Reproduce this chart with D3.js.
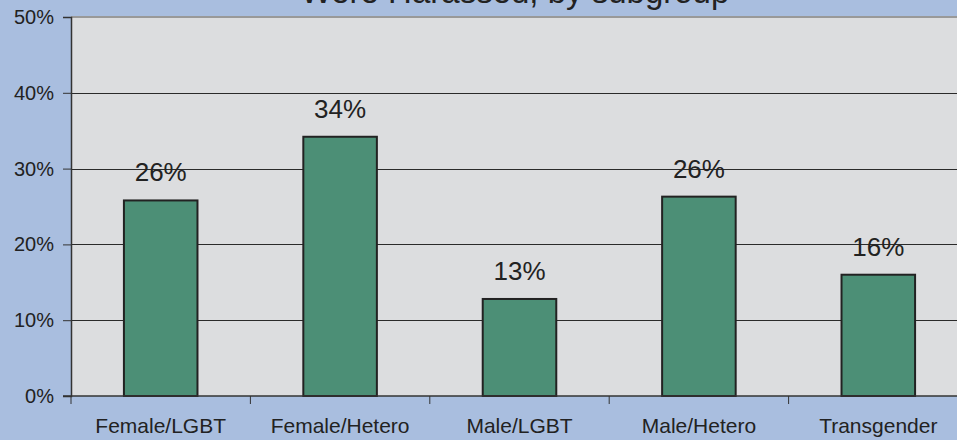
<!DOCTYPE html>
<html>
<head>
<meta charset="utf-8">
<script src="https://cdn.jsdelivr.net/npm/d3@7"></script>
<style>
  html, body { margin: 0; padding: 0; background: #A9BEDF; overflow: hidden; }
  svg { display: block; font-family: "Liberation Sans", Arial, sans-serif; }
</style>
</head>
<body>
<svg></svg>
<script>
const categories = ['Female/LGBT', 'Female/Hetero', 'Male/LGBT', 'Male/Hetero', 'Transgender']
const values = [0.258, 0.342, 0.128, 0.263, 0.160]
const valueLabels = ['26%', '34%', '13%', '26%', '16%']
const yTicks = [0, 0.1, 0.2, 0.3, 0.4, 0.5]
const title = 'Were Harassed, by subgroup'

const width = 957
const height = 440
const plotLeft = 71
const plotTop = 17
const plotBottom = 396
const plotRight = 968

const svg = d3.select('svg')
    .attr('width', width)
    .attr('height', height)

svg.append('rect')
    .attr('width', width)
    .attr('height', height)
    .attr('fill', '#A9BEDF')

const xScale = d3.scaleBand()
    .domain(categories)
    .range([plotLeft, plotRight])
    .paddingInner(0.59)
    .paddingOuter(0.295)

const yScale = d3.scaleLinear()
    .domain([0, 0.5])
    .range([plotBottom, plotTop])

// plot area
svg.append('rect')
    .attr('x', plotLeft)
    .attr('y', plotTop)
    .attr('width', plotRight - plotLeft)
    .attr('height', plotBottom - plotTop)
    .attr('fill', '#DCDDDF')

// grid lines
svg.append('g')
    .selectAll('line')
    .data(yTicks.filter(d => d > 0 && d < 0.5))
    .enter()
    .append('line')
    .attr('x1', plotLeft)
    .attr('x2', plotRight)
    .attr('y1', d => Math.round(yScale(d)) + 0.5)
    .attr('y2', d => Math.round(yScale(d)) + 0.5)
    .attr('stroke', '#2a2a2a')
    .attr('stroke-width', 1)

// top border
svg.append('line')
    .attr('x1', plotLeft)
    .attr('x2', plotRight)
    .attr('y1', plotTop)
    .attr('y2', plotTop)
    .attr('stroke', '#999999')
    .attr('stroke-width', 2)

// bars
svg.selectAll('.bar')
    .data(categories)
    .enter()
    .append('rect')
    .attr('class', 'bar')
    .attr('x', d => xScale(d))
    .attr('y', (d, i) => yScale(values[i]))
    .attr('width', xScale.bandwidth())
    .attr('height', (d, i) => plotBottom - yScale(values[i]))
    .attr('fill', '#4C8F76')
    .attr('stroke', '#222222')
    .attr('stroke-width', 2)

// value labels
svg.selectAll('.value')
    .data(categories)
    .enter()
    .append('text')
    .attr('class', 'value')
    .attr('x', d => xScale(d) + xScale.bandwidth() / 2)
    .attr('y', (d, i) => yScale(values[i]) - 19)
    .attr('text-anchor', 'middle')
    .style('font-size', '26px')
    .style('fill', '#222222')
    .text((d, i) => valueLabels[i])

// y axis
const yAxis = d3.axisLeft(yScale)
    .tickValues(yTicks)
    .tickFormat(d3.format('.0%'))
    .tickSize(8)
    .tickPadding(9)

const yG = svg.append('g')
    .attr('transform', 'translate(' + plotLeft + ', 0)')
    .call(yAxis)
yG.select('.domain').attr('stroke', '#333333').attr('stroke-width', 1.5)
yG.selectAll('.tick line').attr('stroke', '#333333')
yG.selectAll('.tick text')
    .style('font-size', '20px')
    .style('fill', '#222222')
    .style('font-family', '"Liberation Sans", Arial, sans-serif')

// x axis with ticks at category boundaries
const xG = svg.append('g')
    .attr('transform', 'translate(0, ' + plotBottom + ')')

xG.append('line')
    .attr('x1', plotLeft - 8)
    .attr('x2', plotRight)
    .attr('y1', 0)
    .attr('y2', 0)
    .attr('stroke', '#333333')
    .attr('stroke-width', 1.5)

const step = xScale.step()
xG.selectAll('.xtick')
    .data(categories)
    .enter()
    .append('line')
    .attr('class', 'xtick')
    .attr('x1', d => xScale(d) - xScale.paddingInner() * step / 2)
    .attr('x2', d => xScale(d) - xScale.paddingInner() * step / 2)
    .attr('y1', 0)
    .attr('y2', 8)
    .attr('stroke', '#333333')

xG.selectAll('.xlabel')
    .data(categories)
    .enter()
    .append('text')
    .attr('class', 'xlabel')
    .attr('x', d => xScale(d) + xScale.bandwidth() / 2)
    .attr('y', 37)
    .attr('text-anchor', 'middle')
    .style('font-size', '21px')
    .style('fill', '#222222')
    .text(d => d)

// title, clipped at the top as in the source image
svg.append('text')
    .attr('x', 515)
    .attr('y', 3)
    .attr('text-anchor', 'middle')
    .style('font-size', '33px')
    .style('fill', '#222222')
    .text(title)
</script>
</body>
</html>
